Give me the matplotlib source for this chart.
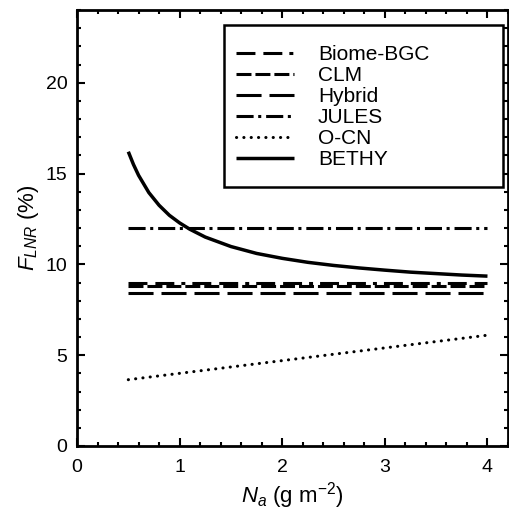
import matplotlib
matplotlib.use("Agg")
import matplotlib.pyplot as plt
from matplotlib.ticker import MultipleLocator
from matplotlib.patches import Rectangle

plt.rcParams['font.family'] = ['Liberation Sans', 'DejaVu Sans']
plt.rcParams['mathtext.fontset'] = 'custom'
plt.rcParams['mathtext.it'] = 'Liberation Sans:italic'
plt.rcParams['mathtext.rm'] = 'Liberation Sans'

na_range = [0.5, 4.0]
biome_bgc = [8.97, 8.97]
clm = [8.8, 8.8]
hybrid = [8.4, 8.4]
jules = [12.0, 12.0]
ocn = [3.65, 6.1]
bethy_x = [0.5, 0.55, 0.6, 0.7, 0.8, 0.9, 1.0, 1.1, 1.25, 1.5, 1.75, 2.0, 2.25, 2.5, 2.75, 3.0, 3.25, 3.5, 3.75, 4.0]
bethy_y = [16.2, 15.5, 14.9, 13.95, 13.25, 12.7, 12.28, 11.93, 11.5, 10.98, 10.6, 10.33, 10.11, 9.94, 9.8, 9.68, 9.57, 9.49, 9.41, 9.35]

W, H = 510, 511
fig = plt.figure(figsize=(W / 100, H / 100), dpi=100)
ax = fig.add_axes([77 / W, 1 - 446 / H, (508 - 77) / W, (446 - 10) / H])

lw = 2.2
ax.plot(na_range, biome_bgc, color='black', lw=lw, dashes=(6.2, 2.6, 6.2, 2.3, 1.3, 2.3), label='Biome-BGC')
ax.plot(na_range, clm, color='black', lw=lw, dashes=(4.9, 1.3), label='CLM')
ax.plot(na_range, hybrid, color='black', lw=lw, dashes=(8.2, 2.6), label='Hybrid')
ax.plot(na_range, jules, color='black', lw=lw, dashes=(5.6, 1.5, 1.0, 1.6), label='JULES')
ax.plot(na_range, ocn, color='black', lw=lw, dashes=(0.05, 2.35), dash_capstyle='round', label='O-CN')
ax.plot(bethy_x, bethy_y, color='black', lw=2.5, label='BETHY', solid_capstyle='butt')

ax.set_xlim(0, 4.2)
ax.set_ylim(0, 24)
ax.xaxis.set_major_locator(MultipleLocator(1))
ax.xaxis.set_minor_locator(MultipleLocator(0.2))
ax.yaxis.set_major_locator(MultipleLocator(5))
ax.yaxis.set_minor_locator(MultipleLocator(1))
ax.tick_params(which='both', direction='in', top=True, right=True, width=1.5, labelsize=14)
ax.tick_params(which='major', length=6)
ax.tick_params(which='minor', length=3)
ax.tick_params(axis='x', which='major', pad=9)
ax.tick_params(axis='y', which='major', pad=7)
for s in ax.spines.values():
    s.set_linewidth(2)

ax.set_xlabel(r'$N_a$ (g m$^{\mathrm{-2}}$)', fontsize=16, labelpad=3)
ax.set_ylabel(r'$F_{LNR}$ (%)', fontsize=16, labelpad=3)

frame = Rectangle((224 / W, 1 - 187 / H), 279 / W, 162 / H,
                  transform=fig.transFigure, facecolor='white',
                  edgecolor='black', linewidth=1.8, zorder=4, clip_on=False)
ax.add_patch(frame)

leg_fs = 15
leg = ax.legend(loc='upper left', bbox_to_anchor=(236 / W, 1 - 45 / H),
                bbox_transform=fig.transFigure, fontsize=leg_fs,
                handlelength=58 / 1.389 / leg_fs, handletextpad=17.3 / leg_fs,
                borderpad=0, borderaxespad=0, labelspacing=0.1,
                frameon=False)
leg.set_zorder(6)

fig.savefig('out.png', dpi=100)
